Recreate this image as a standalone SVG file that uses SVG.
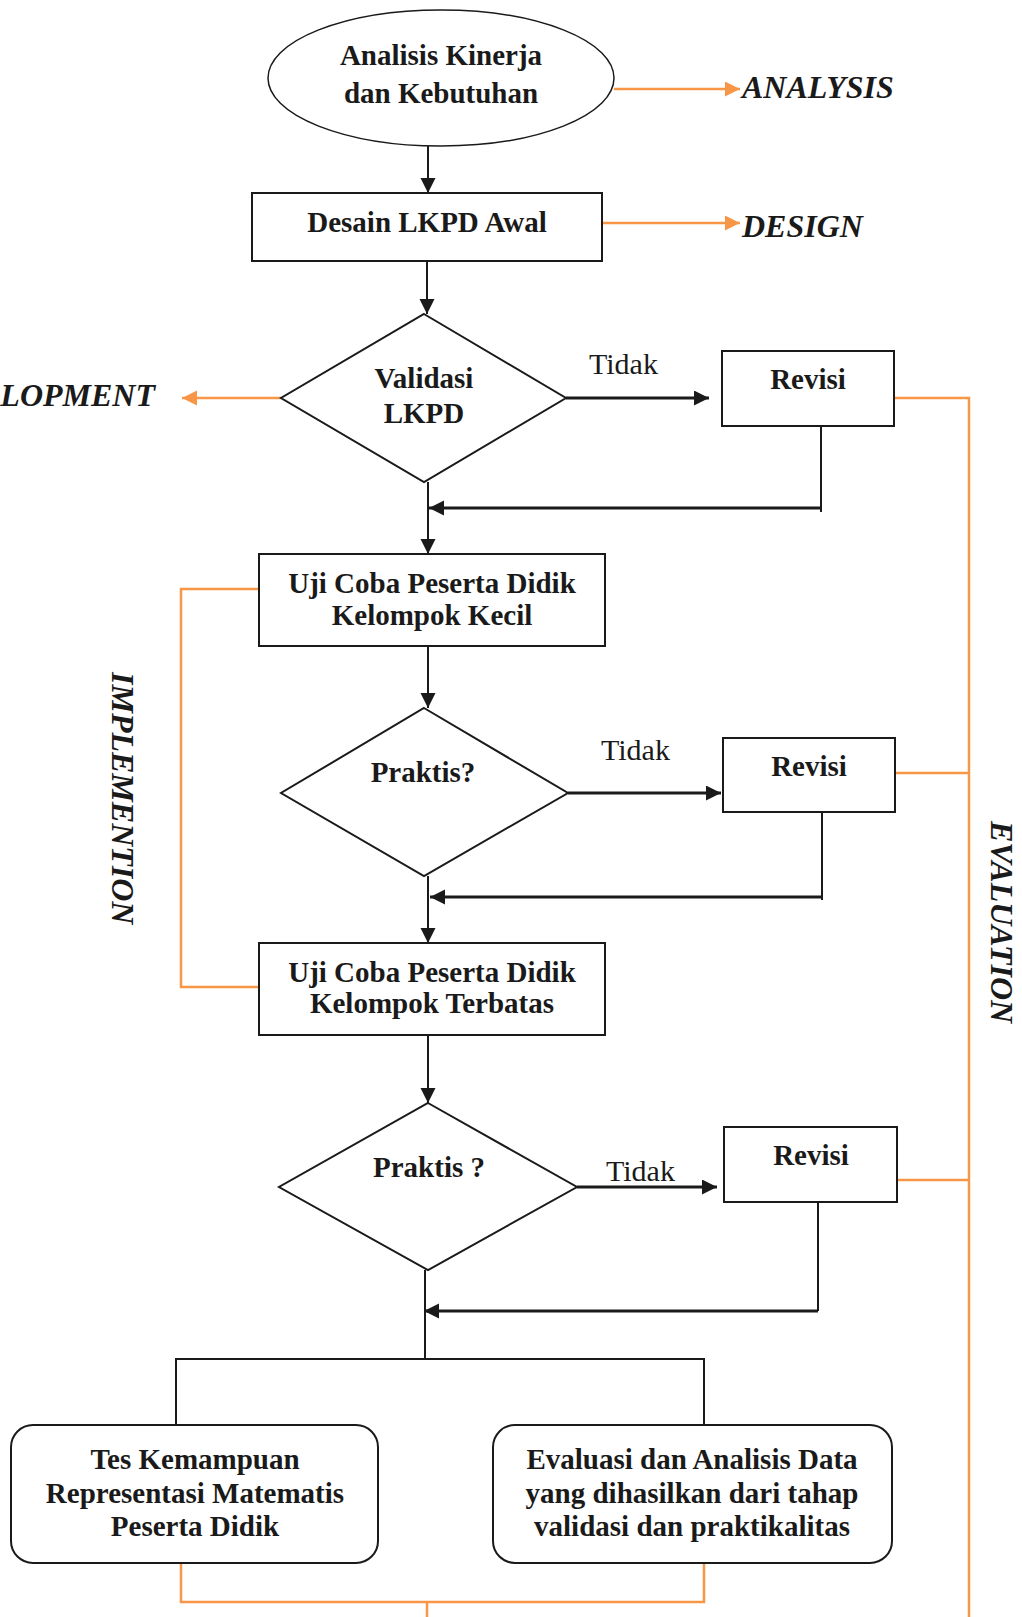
<svg xmlns="http://www.w3.org/2000/svg" width="1022" height="1617" viewBox="0 0 1022 1617">
<style>
.bg{fill:#ffffff}
.node{fill:#ffffff;stroke:#1a1a1a;stroke-width:2}
.t{font-family:"Liberation Serif","Times New Roman",serif;font-weight:bold;font-size:29px;fill:#1a1a1a;text-anchor:middle}
.tidak{font-family:"Liberation Serif","Times New Roman",serif;font-size:30px;fill:#1a1a1a}
.phase{font-family:"Liberation Serif","Times New Roman",serif;font-weight:bold;font-style:italic;font-size:32px;fill:#1a1a1a}
.ln{fill:none;stroke:#1a1a1a;stroke-width:2}
.thick{fill:none;stroke:#1a1a1a;stroke-width:3}
.or{fill:none;stroke:#F79646;stroke-width:2.5}
</style>
<defs>
<marker id="ab" markerUnits="userSpaceOnUse" markerWidth="16" markerHeight="16" refX="15" refY="7.5" orient="auto"><path d="M0,0 L15,7.5 L0,15 z" fill="#1a1a1a"/></marker>
<marker id="ao" markerUnits="userSpaceOnUse" markerWidth="16" markerHeight="16" refX="15" refY="7.5" orient="auto"><path d="M0,0 L15,7.5 L0,15 z" fill="#F79646"/></marker>
</defs>
<rect class="bg" x="0" y="0" width="1022" height="1617"/>

<g id="connectors">
  <line class="ln" x1="428" y1="146" x2="428" y2="193" marker-end="url(#ab)"/>
  <line class="ln" x1="427" y1="261" x2="427" y2="314" marker-end="url(#ab)"/>
  <line class="thick" x1="566" y1="398" x2="709" y2="398" marker-end="url(#ab)"/>
  <polyline class="ln" points="821,426 821,512"/>
  <line class="thick" x1="821" y1="508" x2="429" y2="508" marker-end="url(#ab)"/>
  <line class="ln" x1="428" y1="482" x2="428" y2="554" marker-end="url(#ab)"/>
  <line class="ln" x1="428" y1="646" x2="428" y2="708" marker-end="url(#ab)"/>
  <line class="thick" x1="568" y1="793" x2="721" y2="793" marker-end="url(#ab)"/>
  <polyline class="ln" points="822,812 822,900"/>
  <line class="thick" x1="822" y1="897" x2="430" y2="897" marker-end="url(#ab)"/>
  <line class="ln" x1="428" y1="876" x2="428" y2="943" marker-end="url(#ab)"/>
  <line class="ln" x1="428" y1="1035" x2="428" y2="1103" marker-end="url(#ab)"/>
  <line class="thick" x1="577" y1="1187" x2="717" y2="1187" marker-end="url(#ab)"/>
  <polyline class="ln" points="818,1202 818,1311"/>
  <line class="thick" x1="818" y1="1311" x2="424" y2="1311" marker-end="url(#ab)"/>
  <line class="ln" x1="425" y1="1270" x2="425" y2="1359"/>
  <polyline class="ln" points="176,1425 176,1359 704,1359 704,1425"/>
  <line class="or" x1="614" y1="89" x2="740" y2="89" marker-end="url(#ao)"/>
  <line class="or" x1="602" y1="223" x2="740" y2="223" marker-end="url(#ao)"/>
  <line class="or" x1="281" y1="398" x2="182" y2="398" marker-end="url(#ao)"/>
  <polyline class="or" points="259,589 181,589 181,987 259,987"/>
  <polyline class="or" points="894,398 969,398 969,1617"/>
  <line class="or" x1="895" y1="773" x2="969" y2="773"/>
  <line class="or" x1="897" y1="1180" x2="969" y2="1180"/>
  <polyline class="or" points="181,1563 181,1602 704,1602 704,1563"/>
  <line class="or" x1="427" y1="1602" x2="427" y2="1617"/>
</g>

<g id="n-analisis">
  <ellipse class="node" cx="441" cy="78" rx="173" ry="68" style="stroke-width:1.5"/>
  <text class="t" x="441" y="65">Analisis Kinerja</text>
  <text class="t" x="441" y="103">dan Kebutuhan</text>
</g>
<g id="n-desain">
  <rect class="node" x="252" y="193" width="350" height="68"/>
  <text class="t" x="427" y="232">Desain LKPD Awal</text>
</g>
<g id="n-validasi">
  <polygon class="node" points="424,314 566,398 424,482 281,398"/>
  <text class="t" x="424" y="388">Validasi</text>
  <text class="t" x="424" y="423">LKPD</text>
</g>
<text class="tidak" x="589" y="374">Tidak</text>
<g id="n-revisi1">
  <rect class="node" x="722" y="351" width="172" height="75"/>
  <text class="t" x="808" y="389">Revisi</text>
</g>
<g id="n-uji1">
  <rect class="node" x="259" y="554" width="346" height="92"/>
  <text class="t" x="432" y="593">Uji Coba Peserta Didik</text>
  <text class="t" x="432" y="625">Kelompok Kecil</text>
</g>
<g id="n-praktis1">
  <polygon class="node" points="424,708 568,793 424,876 281,793"/>
  <text class="t" x="423" y="782">Praktis?</text>
</g>
<text class="tidak" x="601" y="760">Tidak</text>
<g id="n-revisi2">
  <rect class="node" x="723" y="738" width="172" height="74"/>
  <text class="t" x="809" y="776">Revisi</text>
</g>
<g id="n-uji2">
  <rect class="node" x="259" y="943" width="346" height="92"/>
  <text class="t" x="432" y="982">Uji Coba Peserta Didik</text>
  <text class="t" x="432" y="1013">Kelompok Terbatas</text>
</g>
<g id="n-praktis2">
  <polygon class="node" points="428,1103 577,1187 428,1270 279,1187"/>
  <text class="t" x="429" y="1177">Praktis ?</text>
</g>
<text class="tidak" x="606" y="1181">Tidak</text>
<g id="n-revisi3">
  <rect class="node" x="724" y="1127" width="173" height="75"/>
  <text class="t" x="811" y="1165">Revisi</text>
</g>
<g id="n-tes">
  <rect class="node" x="11" y="1425" width="367" height="138" rx="22" ry="22"/>
  <text class="t" x="195" y="1469">Tes Kemampuan</text>
  <text class="t" x="195" y="1503">Representasi Matematis</text>
  <text class="t" x="195" y="1536">Peserta Didik</text>
</g>
<g id="n-evaluasi">
  <rect class="node" x="493" y="1425" width="399" height="138" rx="22" ry="22"/>
  <text class="t" x="692" y="1469">Evaluasi dan Analisis Data</text>
  <text class="t" x="692" y="1503">yang dihasilkan dari tahap</text>
  <text class="t" x="692" y="1536">validasi dan praktikalitas</text>
</g>

<g id="phase-labels">
  <text class="phase" x="742" y="98">ANALYSIS</text>
  <text class="phase" x="742" y="237">DESIGN</text>
  <text class="phase" x="155" y="406" text-anchor="end">DEVELOPMENT</text>
  <text class="phase" transform="translate(112,672) rotate(90)">IMPLEMENTION</text>
  <text class="phase" transform="translate(991,821) rotate(90)">EVALUATION</text>
</g>
</svg>
